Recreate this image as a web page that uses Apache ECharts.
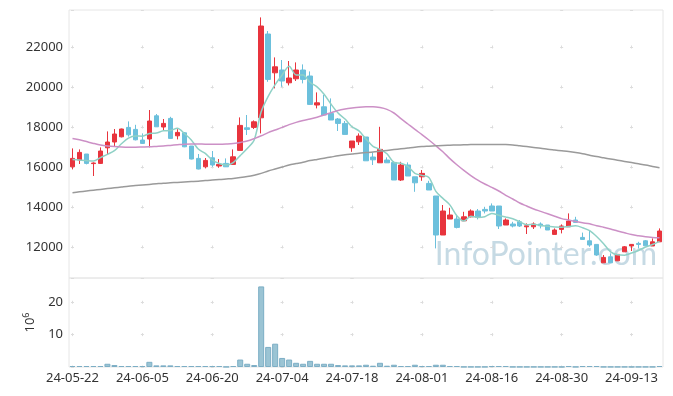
<!DOCTYPE html>
<html>
<head>
<meta charset="utf-8">
<script src="https://cdn.jsdelivr.net/npm/echarts@6/dist/echarts.min.js"></script>
<style>html,body{margin:0;padding:0;background:#fff}#c{width:673px;height:396px}</style>
</head>
<body>
<div id="c"></div>
<script>
var dates = ['24-05-22','24-05-23','24-05-24','24-05-27','24-05-28','24-05-29','24-05-30','24-05-31','24-06-03','24-06-04',
'24-06-05','24-06-07','24-06-10','24-06-11','24-06-12','24-06-13','24-06-14','24-06-17','24-06-18','24-06-19',
'24-06-20','24-06-21','24-06-24','24-06-25','24-06-26','24-06-27','24-06-28','24-07-01','24-07-02','24-07-03',
'24-07-04','24-07-05','24-07-08','24-07-09','24-07-10','24-07-11','24-07-12','24-07-15','24-07-16','24-07-17',
'24-07-18','24-07-19','24-07-22','24-07-23','24-07-24','24-07-25','24-07-26','24-07-29','24-07-30','24-07-31',
'24-08-01','24-08-02','24-08-05','24-08-06','24-08-07','24-08-08','24-08-09','24-08-12','24-08-13','24-08-14',
'24-08-16','24-08-19','24-08-20','24-08-21','24-08-22','24-08-23','24-08-26','24-08-27','24-08-28','24-08-29',
'24-08-30','24-09-02','24-09-03','24-09-04','24-09-05','24-09-06','24-09-09','24-09-10','24-09-11','24-09-12',
'24-09-13','24-09-19','24-09-20','24-09-23','24-09-24'];

var opens = [16010,16350,16650,16170,16180,16960,17250,17510,17980,17880,
17350,17400,18560,18000,18430,17560,17710,17050,16430,16010,
16460,16050,16180,16130,16830,17960,17980,18460,22650,20710,
20850,20210,20410,20850,20550,19100,19010,18680,18400,18180,
16960,17260,17500,16500,16210,16350,16230,15350,16100,15510,
15510,15180,14550,12600,13400,13400,13310,13510,13800,13880,
14050,14050,13100,13150,13260,13010,13010,13150,13100,12630,
12880,13010,13350,12480,12310,12130,11210,11510,11310,11760,
12050,12180,12310,12050,12260];
var closes = [16430,16730,16180,16200,16800,17250,17650,17900,17610,17360,
17180,18300,18010,18180,17430,17730,17010,16400,15900,16330,
16100,16130,16010,16510,18080,17880,18260,23050,20380,21010,
20300,20450,20850,20380,19130,19210,18600,18350,18180,17630,
17300,17550,16310,16360,16880,16210,15350,16100,15550,15210,
15680,14850,12600,13800,13600,12980,13510,13800,13480,13800,
13800,13050,13350,13050,13050,13060,13150,13060,12850,12850,
13050,13300,13230,12380,12100,11600,11480,11210,11630,12010,
12130,12130,12060,12260,12800];
var lows = [15880,16150,16130,15550,16150,16600,17050,17480,17520,17330,
17150,16980,18010,17800,17430,17380,16990,16380,15880,15930,
16010,15960,16000,16130,16830,17600,17900,17680,20260,19930,
20010,20080,20300,20180,19100,18930,18560,18350,17800,17630,
16760,17100,16310,16100,16210,16210,15350,15300,15550,14760,
15310,14850,11930,12600,13400,12930,13300,13480,13380,13680,
13800,12900,13100,12980,13000,12650,12900,12930,12850,12630,
12680,13000,13230,12380,12010,11560,11210,11210,11300,11760,
11800,11930,12060,12050,12260];
var highs = [16930,16880,16650,16230,16980,17780,17900,17920,18280,18110,
17680,18850,18650,18400,18510,17890,17750,17050,16650,16450,
16800,16400,16430,16880,18480,18600,18330,23480,22800,21480,
21350,21300,21230,21130,20780,19730,19600,19430,18450,18300,
17300,17680,17500,16730,18010,16480,16300,16260,16230,15510,
15850,15310,14550,14100,13960,13560,13760,13880,13900,14010,
14180,14050,13430,13260,13350,13180,13230,13230,13100,12930,
13130,13680,13510,12720,12800,12130,11600,11680,11650,12050,
12150,12260,12350,12430,12930];

var ma5 = [16380,16350,16320,16300,16471,16634,16817,17160,17443,17556,
17543,17673,17696,17810,17824,17934,17677,17354,16897,16677,
16350,16174,16097,16220,16570,16927,17353,18760,19534,20120,
20603,21040,20600,20600,20224,20007,19637,19137,18697,18397,
18014,17804,17397,17033,16883,16666,16226,16183,16020,15686,
15580,15480,14780,14430,14107,13567,13300,13540,13477,13517,
13680,13587,13497,13410,13260,13113,13133,13076,13036,12996,
12993,13023,13057,12964,12814,12524,12161,11757,11607,11590,
11697,11827,11997,12123,12280];
var ma20 = [17420,17360,17270,17180,17100,17050,17020,17000,16990,16990,
17000,17010,17030,17050,17080,17110,17140,17150,17150,17140,
17140,17140,17150,17170,17230,17300,17420,17560,17720,17850,
17980,18120,18230,18320,18400,18490,18600,18720,18830,18900,
18950,18990,19010,19010,18970,18880,18700,18420,18150,17880,
17620,17350,17060,16760,16420,16110,15830,15570,15340,15150,
14980,14800,14580,14400,14200,14050,13900,13780,13660,13540,
13420,13350,13270,13210,13160,13060,12990,12900,12800,12710,
12620,12560,12510,12480,12460];
var ma60 = [14715,14760,14800,14840,14880,14920,14960,15000,15040,15070,
15100,15130,15160,15190,15210,15230,15250,15270,15290,15320,
15350,15370,15400,15430,15470,15520,15590,15680,15800,15900,
16000,16100,16170,16240,16320,16380,16440,16500,16560,16610,
16650,16690,16720,16750,16790,16830,16870,16910,16950,16990,
17020,17040,17060,17080,17090,17100,17110,17120,17130,17130,
17130,17130,17120,17100,17060,17020,16980,16940,16890,16850,
16810,16770,16720,16660,16590,16520,16460,16400,16340,16280,
16220,16160,16100,16030,15960];

// volume, in millions of shares
var volumes = [0.3,0.3,0.3,0.3,0.3,1.0,0.6,0.3,0.3,0.3,
0.3,1.6,0.5,0.5,0.5,0.3,0.3,0.3,0.3,0.3,
0.3,0.3,0.05,0.3,2.3,1.0,0.6,24.9,6.2,7.2,
2.8,2.3,1.3,1.0,1.9,1.0,1.0,1.0,0.6,0.5,
0.5,0.5,0.7,0.4,1.3,0.4,0.7,0.3,0.3,0.7,
0.3,0.3,0.7,0.7,0.3,0.3,0.05,0.05,0.05,0.05,
0.3,0.3,0.3,0.05,0.05,0.05,0.05,0.05,0.05,0.05,
0.05,0.3,0.05,0.3,0.3,0.3,0.05,0.05,0.05,0.05,
0.05,0.05,0.05,0.05,0.3];

var priceTicks = [12000,14000,16000,18000,20000,22000];
var volumeTicks = [10,20];

var candles = dates.map(function (d, i) { return [opens[i], closes[i], lows[i], highs[i]]; });

var FONT = '"Noto Sans", "Open Sans", sans-serif';
var labelStyle = { color: '#333', fontSize: 13, fontFamily: FONT };
var crossColor = '#dcdcdc';

var chart = echarts.init(document.getElementById('c'), null, { renderer: 'canvas' });
chart.setOption({
  animation: false,
  backgroundColor: '#fff',
  textStyle: { fontFamily: FONT },
  grid: [
    { left: 69, top: 10, width: 594, height: 268, show: true, borderColor: '#e6e6e6', borderWidth: 1, containLabel: false },
    { left: 69, top: 278, width: 594, height: 89, show: true, borderColor: '#e6e6e6', borderWidth: 1, containLabel: false }
  ],
  graphic: [{
    type: 'text', right: 16, top: 239, z: 0, silent: true,
    style: { text: 'InfoPointer.com', font: '32px Lato', fill: '#c6dae4' }
  }],
  xAxis: [
    {
      type: 'category', gridIndex: 0, data: dates, boundaryGap: true,
      axisLine: { show: false }, axisTick: { show: false }, axisLabel: { show: false },
      splitLine: { show: true, interval: 9, alignWithLabel: true,
        lineStyle: { color: crossColor, width: 1, type: [3, 37], dashOffset: 4.5 } }
    },
    {
      type: 'category', gridIndex: 1, data: dates, boundaryGap: true,
      axisLine: { show: false }, axisTick: { show: false },
      axisLabel: Object.assign({ interval: 9, margin: 5 }, labelStyle),
      splitLine: { show: true, interval: 9, alignWithLabel: true,
        lineStyle: { color: crossColor, width: 1, type: [3, 29.364], dashOffset: 9.59 } }
    }
  ],
  yAxis: [
    {
      type: 'value', gridIndex: 0, min: 10450, max: 23850, splitNumber: 7, scale: true,
      axisLine: { show: false }, axisTick: { show: false },
      axisLabel: Object.assign({ margin: 6, formatter: function (v) { return priceTicks.indexOf(v) >= 0 ? String(v) : ''; } }, labelStyle),
      splitLine: { show: true, lineStyle: { color: crossColor, width: 1, type: [3, 66.88], dashOffset: 67.88 } }
    },
    {
      type: 'value', gridIndex: 1, min: 0, max: 27.5, interval: 10,
      axisLine: { show: false }, axisTick: { show: false },
      axisLabel: Object.assign({ margin: 6, formatter: function (v) { return volumeTicks.indexOf(v) >= 0 ? String(v) : ''; } }, labelStyle),
      splitLine: { show: true, lineStyle: { color: crossColor, width: 1, type: [3, 66.88], dashOffset: 67.88 } },
      name: '10{sup|6}', nameLocation: 'middle', nameGap: 31, nameRotate: 90,
      nameTextStyle: { color: '#333', fontSize: 13, fontFamily: FONT,
        rich: { sup: { fontSize: 9, color: '#333', fontFamily: FONT, padding: [0, 0, 7, 0] } } }
    }
  ],
  series: [
    {
      type: 'candlestick', name: 'price', xAxisIndex: 0, yAxisIndex: 0, data: candles, barWidth: 5,
      itemStyle: { color: '#e8343d', color0: '#6cc0dc', borderColor: '#e8343d', borderColor0: '#6cc0dc', borderWidth: 1 }
    },
    { type: 'line', name: 'MA5', xAxisIndex: 0, yAxisIndex: 0, data: ma5, showSymbol: false, smooth: 0.3,
      lineStyle: { color: '#8fd1c6', width: 1.5 }, z: 3 },
    { type: 'line', name: 'MA20', xAxisIndex: 0, yAxisIndex: 0, data: ma20, showSymbol: false, smooth: 0.3,
      lineStyle: { color: '#cc90c6', width: 1.5 }, z: 3 },
    { type: 'line', name: 'MA60', xAxisIndex: 0, yAxisIndex: 0, data: ma60, showSymbol: false, smooth: 0.3,
      lineStyle: { color: '#9a9a9a', width: 1.5 }, z: 3 },
    {
      type: 'bar', name: 'volume', xAxisIndex: 1, yAxisIndex: 1, data: volumes, barWidth: 6,
      itemStyle: { color: '#9bc4d4', borderColor: '#7caec5', borderWidth: 1 }
    }
  ]
});
</script>
</body>
</html>
